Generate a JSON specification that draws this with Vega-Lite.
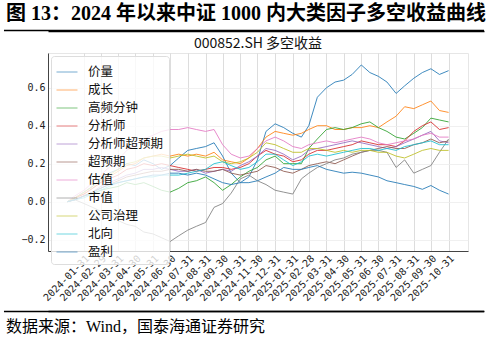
{
  "$schema": "https://vega.github.io/schema/vega-lite/v6.json",
  "padding": {"left": 3, "top": 3, "right": 5, "bottom": 2},
  "spacing": 4,
  "datasets": {
    "series": [
      {"date": "2024-01-02", "价量": 0, "成长": 0, "高频分钟": 0, "分析师": 0, "分析师超预期": 0, "超预期": 0, "估值": 0, "市值": 0, "公司治理": 0, "北向": 0, "盈利": 0},
      {"date": "2024-01-15", "价量": 0.02, "成长": 0.02, "高频分钟": 0.01, "分析师": 0.02, "分析师超预期": 0.01, "超预期": 0.01, "估值": 0.03, "市值": 0.01, "公司治理": 0.02, "北向": 0.01, "盈利": 0.01},
      {"date": "2024-01-31", "价量": 0.05, "成长": 0.04, "高频分钟": 0.03, "分析师": 0.04, "分析师超预期": 0.03, "超预期": 0.03, "估值": 0.06, "市值": -0.01, "公司治理": 0.05, "北向": 0.02, "盈利": 0.03},
      {"date": "2024-02-15", "价量": 0.08, "成长": 0.07, "高频分钟": 0.04, "分析师": 0.07, "分析师超预期": 0.05, "超预期": 0.05, "估值": 0.10, "市值": -0.03, "公司治理": 0.08, "北向": 0.04, "盈利": 0.05},
      {"date": "2024-02-29", "价量": 0.12, "成长": 0.10, "高频分钟": 0.06, "分析师": 0.10, "分析师超预期": 0.08, "超预期": 0.07, "估值": 0.14, "市值": -0.05, "公司治理": 0.11, "北向": 0.06, "盈利": 0.07},
      {"date": "2024-03-15", "价量": 0.15, "成长": 0.13, "高频分钟": 0.07, "分析师": 0.12, "分析师超预期": 0.10, "超预期": 0.09, "估值": 0.18, "市值": -0.07, "公司治理": 0.14, "北向": 0.08, "盈利": 0.09},
      {"date": "2024-03-31", "价量": 0.17, "成长": 0.16, "高频分钟": 0.08, "分析师": 0.14, "分析师超预期": 0.12, "超预期": 0.11, "估值": 0.22, "市值": -0.10, "公司治理": 0.17, "北向": 0.10, "盈利": 0.10},
      {"date": "2024-04-15", "价量": 0.20, "成长": 0.19, "高频分钟": 0.10, "分析师": 0.17, "分析师超预期": 0.14, "超预期": 0.13, "估值": 0.27, "市值": -0.12, "公司治理": 0.20, "北向": 0.11, "盈利": 0.11},
      {"date": "2024-04-30", "价量": 0.19, "成长": 0.20, "高频分钟": 0.09, "分析师": 0.18, "分析师超预期": 0.15, "超预期": 0.14, "估值": 0.30, "市值": -0.13, "公司治理": 0.21, "北向": 0.12, "盈利": 0.12},
      {"date": "2024-05-15", "价量": 0.22, "成长": 0.23, "高频分钟": 0.10, "分析师": 0.20, "分析师超预期": 0.17, "超预期": 0.15, "估值": 0.33, "市值": -0.16, "公司治理": 0.23, "北向": 0.13, "盈利": 0.13},
      {"date": "2024-05-31", "价量": 0.20, "成长": 0.24, "高频分钟": 0.08, "分析师": 0.19, "分析师超预期": 0.17, "超预期": 0.16, "估值": 0.35, "市值": -0.17, "公司治理": 0.24, "北向": 0.13, "盈利": 0.14},
      {"date": "2024-06-15", "价量": 0.17, "成长": 0.25, "高频分钟": 0.06, "分析师": 0.20, "分析师超预期": 0.18, "超预期": 0.16, "估值": 0.37, "市值": -0.19, "公司治理": 0.24, "北向": 0.14, "盈利": 0.14},
      {"date": "2024-06-30", "价量": 0.19, "成长": 0.24, "高频分钟": 0.05, "分析师": 0.19, "分析师超预期": 0.17, "超预期": 0.17, "估值": 0.38, "市值": -0.21, "公司治理": 0.23, "北向": 0.14, "盈利": 0.15},
      {"date": "2024-07-15", "价量": 0.23, "成长": 0.25, "高频分钟": 0.07, "分析师": 0.18, "分析师超预期": 0.16, "超预期": 0.17, "估值": 0.38, "市值": -0.18, "公司治理": 0.24, "北向": 0.14, "盈利": 0.15},
      {"date": "2024-07-31", "价量": 0.27, "成长": 0.24, "高频分钟": 0.10, "分析师": 0.17, "分析师超预期": 0.16, "超预期": 0.16, "估值": 0.39, "市值": -0.15, "公司治理": 0.25, "北向": 0.15, "盈利": 0.14},
      {"date": "2024-08-15", "价量": 0.28, "成长": 0.25, "高频分钟": 0.11, "分析师": 0.16, "分析师超预期": 0.17, "超预期": 0.17, "估值": 0.38, "市值": -0.13, "公司治理": 0.24, "北向": 0.16, "盈利": 0.15},
      {"date": "2024-08-31", "价量": 0.29, "成长": 0.24, "高频分钟": 0.13, "分析师": 0.17, "分析师超预期": 0.15, "超预期": 0.16, "估值": 0.37, "市值": -0.11, "公司治理": 0.23, "北向": 0.17, "盈利": 0.14},
      {"date": "2024-09-15", "价量": 0.31, "成长": 0.26, "高频分钟": 0.10, "分析师": 0.18, "分析师超预期": 0.16, "超预期": 0.16, "估值": 0.38, "市值": -0.03, "公司治理": 0.24, "北向": 0.20, "盈利": 0.12},
      {"date": "2024-09-30", "价量": 0.24, "成长": 0.22, "高频分钟": 0.06, "分析师": 0.18, "分析师超预期": 0.17, "超预期": 0.17, "估值": 0.30, "市值": -0.01, "公司治理": 0.21, "北向": 0.21, "盈利": 0.10},
      {"date": "2024-10-15", "价量": 0.15, "成长": 0.21, "高频分钟": 0.09, "分析师": 0.17, "分析师超预期": 0.16, "超预期": 0.15, "估值": 0.25, "市值": 0.045, "公司治理": 0.20, "北向": 0.19, "盈利": 0.09},
      {"date": "2024-10-31", "价量": 0.10, "成长": 0.20, "高频分钟": 0.13, "分析师": 0.18, "分析师超预期": 0.19, "超预期": 0.14, "估值": 0.23, "市值": 0.12, "公司治理": 0.21, "北向": 0.17, "盈利": 0.10},
      {"date": "2024-11-15", "价量": 0.13, "成长": 0.23, "高频分钟": 0.16, "分析师": 0.20, "分析师超预期": 0.21, "超预期": 0.15, "估值": 0.24, "市值": 0.14, "公司治理": 0.23, "北向": 0.18, "盈利": 0.10},
      {"date": "2024-11-30", "价量": 0.22, "成长": 0.28, "高频分钟": 0.18, "分析师": 0.24, "分析师超预期": 0.24, "超预期": 0.16, "估值": 0.28, "市值": 0.11, "公司治理": 0.26, "北向": 0.21, "盈利": 0.11},
      {"date": "2024-12-15", "价量": 0.37, "成长": 0.34, "高频分钟": 0.22, "分析师": 0.27, "分析师超预期": 0.28, "超预期": 0.19, "估值": 0.32, "市值": 0.09, "公司治理": 0.31, "北向": 0.25, "盈利": 0.13},
      {"date": "2024-12-31", "价量": 0.41, "成长": 0.37, "高频分钟": 0.24, "分析师": 0.25, "分析师超预期": 0.27, "超预期": 0.18, "估值": 0.34, "市值": 0.06, "公司治理": 0.30, "北向": 0.25, "盈利": 0.15},
      {"date": "2025-01-15", "价量": 0.39, "成长": 0.36, "高频分钟": 0.20, "分析师": 0.24, "分析师超预期": 0.25, "超预期": 0.16, "估值": 0.32, "市值": 0.05, "公司治理": 0.28, "北向": 0.22, "盈利": 0.18},
      {"date": "2025-01-31", "价量": 0.36, "成长": 0.35, "高频分钟": 0.20, "分析师": 0.21, "分析师超预期": 0.22, "超预期": 0.15, "估值": 0.29, "市值": 0.04, "公司治理": 0.26, "北向": 0.19, "盈利": 0.17},
      {"date": "2025-02-15", "价量": 0.34, "成长": 0.36, "高频分钟": 0.20, "分析师": 0.22, "分析师超预期": 0.24, "超预期": 0.17, "估值": 0.28, "市值": 0.12, "公司治理": 0.26, "北向": 0.21, "盈利": 0.17},
      {"date": "2025-02-28", "价量": 0.40, "成长": 0.38, "高频分钟": 0.28, "分析师": 0.25, "分析师超预期": 0.27, "超预期": 0.19, "估值": 0.30, "市值": 0.15, "公司治理": 0.28, "北向": 0.24, "盈利": 0.18},
      {"date": "2025-03-15", "价量": 0.55, "成长": 0.40, "高频分钟": 0.33, "分析师": 0.27, "分析师超预期": 0.28, "超预期": 0.20, "估值": 0.31, "市值": 0.18, "公司治理": 0.28, "北向": 0.25, "盈利": 0.19},
      {"date": "2025-03-31", "价量": 0.60, "成长": 0.40, "高频分钟": 0.38, "分析师": 0.27, "分析师超预期": 0.29, "超预期": 0.21, "估值": 0.32, "市值": 0.20, "公司治理": 0.27, "北向": 0.24, "盈利": 0.17},
      {"date": "2025-04-15", "价量": 0.63, "成长": 0.38, "高频分钟": 0.39, "分析师": 0.28, "分析师超预期": 0.30, "超预期": 0.20, "估值": 0.31, "市值": 0.22, "公司治理": 0.26, "北向": 0.25, "盈利": 0.16},
      {"date": "2025-04-30", "价量": 0.64, "成长": 0.38, "高频分钟": 0.38, "分析师": 0.29, "分析师超预期": 0.31, "超预期": 0.22, "估值": 0.32, "市值": 0.23, "公司治理": 0.27, "北向": 0.26, "盈利": 0.15},
      {"date": "2025-05-15", "价量": 0.67, "成长": 0.39, "高频分钟": 0.39, "分析师": 0.30, "分析师超预期": 0.32, "超预期": 0.24, "估值": 0.33, "市值": 0.25, "公司治理": 0.26, "北向": 0.27, "盈利": 0.155},
      {"date": "2025-05-31", "价量": 0.72, "成长": 0.39, "高频分钟": 0.41, "分析师": 0.32, "分析师超预期": 0.31, "超预期": 0.26, "估值": 0.34, "市值": 0.26, "公司治理": 0.27, "北向": 0.28, "盈利": 0.15},
      {"date": "2025-06-15", "价量": 0.68, "成长": 0.40, "高频分钟": 0.42, "分析师": 0.31, "分析师超预期": 0.30, "超预期": 0.27, "估值": 0.33, "市值": 0.27, "公司治理": 0.27, "北向": 0.28, "盈利": 0.14},
      {"date": "2025-06-30", "价量": 0.66, "成长": 0.39, "高频分钟": 0.39, "分析师": 0.30, "分析师超预期": 0.29, "超预期": 0.28, "估值": 0.31, "市值": 0.27, "公司治理": 0.26, "北向": 0.27, "盈利": 0.13},
      {"date": "2025-07-15", "价量": 0.63, "成长": 0.42, "高频分钟": 0.37, "分析师": 0.30, "分析师超预期": 0.28, "超预期": 0.29, "估值": 0.30, "市值": 0.26, "公司治理": 0.26, "北向": 0.28, "盈利": 0.11},
      {"date": "2025-07-31", "价量": 0.57, "成长": 0.45, "高频分钟": 0.34, "分析师": 0.29, "分析师超预期": 0.29, "超预期": 0.28, "估值": 0.31, "市值": 0.18, "公司治理": 0.24, "北向": 0.27, "盈利": 0.10},
      {"date": "2025-08-15", "价量": 0.61, "成长": 0.50, "高频分钟": 0.33, "分析师": 0.32, "分析师超预期": 0.31, "超预期": 0.28, "估值": 0.32, "市值": 0.22, "公司治理": 0.23, "北向": 0.29, "盈利": 0.09},
      {"date": "2025-08-31", "价量": 0.65, "成长": 0.49, "高频分钟": 0.36, "分析师": 0.37, "分析师超预期": 0.33, "超预期": 0.30, "估值": 0.33, "市值": 0.15, "公司治理": 0.25, "北向": 0.30, "盈利": 0.08},
      {"date": "2025-09-15", "价量": 0.68, "成长": 0.51, "高频分钟": 0.39, "分析师": 0.40, "分析师超预期": 0.35, "超预期": 0.31, "估值": 0.35, "市值": 0.17, "公司治理": 0.27, "北向": 0.31, "盈利": 0.065},
      {"date": "2025-09-30", "价量": 0.70, "成长": 0.53, "高频分钟": 0.44, "分析师": 0.42, "分析师超预期": 0.37, "超预期": 0.33, "估值": 0.36, "市值": 0.19, "公司治理": 0.28, "北向": 0.32, "盈利": 0.085},
      {"date": "2025-10-15", "价量": 0.67, "成长": 0.48, "高频分钟": 0.43, "分析师": 0.38, "分析师超预期": 0.32, "超预期": 0.31, "估值": 0.34, "市值": 0.26, "公司治理": 0.27, "北向": 0.30, "盈利": 0.06},
      {"date": "2025-10-31", "价量": 0.69, "成长": 0.47, "高频分钟": 0.42, "分析师": 0.39, "分析师超预期": 0.31, "超预期": 0.32, "估值": 0.34, "市值": 0.33, "公司治理": 0.27, "北向": 0.30, "盈利": 0.04}
    ],
    "sepdata": [{"start": 0, "end": 1}]
  },
  "vconcat": [
    {
      "width": 436,
      "height": 1,
      "view": {"stroke": null},
      "title": {
        "text": "图 13：2024 年以来中证 1000 内大类因子多空收益曲线",
        "anchor": "start",
        "frame": "group",
        "font": "Liberation Serif, Noto Sans CJK SC",
        "fontWeight": "bold",
        "fontSize": 20,
        "color": "#000000",
        "offset": 6,
        "dx": -42
      },
      "data": {"name": "sepdata"},
      "mark": {"type": "rule", "color": "#000000", "strokeWidth": 1.3, "clip": false},
      "encoding": {
        "x": {"field": "start", "type": "quantitative", "scale": {"domain": [0.0917, 1], "nice": false, "zero": false},
              "axis": {"domain": true, "domainColor": "#000000", "domainWidth": 1.3, "labels": false, "ticks": false, "grid": false, "title": null, "orient": "bottom"}},
        "x2": {"field": "end"}
      }
    },
    {
      "width": 420,
      "height": 198,
      "view": {"stroke": "#e6e6e6"},
      "title": {
        "text": "000852.SH  多空收益",
        "anchor": "middle",
        "font": "Noto Sans CJK SC",
        "fontWeight": "normal",
        "fontSize": 14,
        "color": "#111111",
        "offset": 2
      },
      "data": {"name": "series"},
      "transform": [
        {"fold": ["价量", "成长", "高频分钟", "分析师", "分析师超预期", "超预期", "估值", "市值", "公司治理", "北向", "盈利"], "as": ["factor", "value"]}
      ],
      "mark": {"type": "line", "strokeWidth": 1, "opacity": 0.85, "clip": true},
      "encoding": {
        "x": {
          "field": "date",
          "type": "temporal",
          "scale": {"domain": [{"year": 2023, "month": 11, "date": 29}, {"year": 2025, "month": 12, "date": 4}]},
          "axis": {
            "title": null,
            "format": "%Y-%m-%d",
            "labelAngle": -45,
            "labelFont": "DejaVu Sans Mono",
            "labelFontSize": 10,
            "labelColor": "#222222",
            "labelOverlap": false,
            "labelFlush": false,
            "labelPadding": 2,
            "ticks": false,
            "domainColor": "#444444",
            "grid": true,
            "gridColor": "#d4d4d4",
            "gridWidth": 0.8,
            "minExtent": 54,
            "values": [
              {"year": 2024, "month": 1, "date": 31}, {"year": 2024, "month": 2, "date": 29}, {"year": 2024, "month": 3, "date": 31},
              {"year": 2024, "month": 4, "date": 30}, {"year": 2024, "month": 5, "date": 31}, {"year": 2024, "month": 6, "date": 30},
              {"year": 2024, "month": 7, "date": 31}, {"year": 2024, "month": 8, "date": 31}, {"year": 2024, "month": 9, "date": 30},
              {"year": 2024, "month": 10, "date": 31}, {"year": 2024, "month": 11, "date": 30}, {"year": 2024, "month": 12, "date": 31},
              {"year": 2025, "month": 1, "date": 31}, {"year": 2025, "month": 2, "date": 28}, {"year": 2025, "month": 3, "date": 31},
              {"year": 2025, "month": 4, "date": 30}, {"year": 2025, "month": 5, "date": 31}, {"year": 2025, "month": 6, "date": 30},
              {"year": 2025, "month": 7, "date": 31}, {"year": 2025, "month": 8, "date": 31}, {"year": 2025, "month": 9, "date": 30},
              {"year": 2025, "month": 10, "date": 31}
            ]
          }
        },
        "y": {
          "field": "value",
          "type": "quantitative",
          "scale": {"domain": [-0.26, 0.783], "nice": false, "zero": false},
          "axis": {
            "title": null,
            "values": [-0.2, 0, 0.2, 0.4, 0.6],
            "format": ".1f",
            "labelFont": "DejaVu Sans Mono",
            "labelFontSize": 10,
            "labelColor": "#222222",
            "labelPadding": 3,
            "ticks": false,
            "domainColor": "#444444",
            "grid": true,
            "gridColor": "#ececec",
            "gridWidth": 0.8,
            "minExtent": 44
          }
        },
        "color": {
          "field": "factor",
          "type": "nominal",
          "scale": {
            "domain": ["价量", "成长", "高频分钟", "分析师", "分析师超预期", "超预期", "估值", "市值", "公司治理", "北向", "盈利"],
            "range": ["#1f77b4", "#ff7f0e", "#2ca02c", "#d62728", "#9467bd", "#8c564b", "#e377c2", "#7f7f7f", "#bcbd22", "#17becf", "#1f77b4"]
          },
          "legend": {
            "title": null,
            "orient": "top-left",
            "offset": 3,
            "symbolType": "stroke",
            "symbolStrokeWidth": 1,
            "symbolSize": 440,
            "symbolOpacity": 0.6,
            "labelFont": "Noto Sans CJK SC",
            "labelFontSize": 12.5,
            "labelColor": "#111111",
            "labelOffset": 10,
            "labelLimit": 200,
            "rowPadding": 0,
            "padding": 5,
            "fillColor": "rgba(255,255,255,0.8)",
            "strokeColor": "#dddddd",
            "cornerRadius": 3
          }
        },
        "detail": {"field": "factor"}
      }
    },
    {
      "width": 436,
      "height": 1,
      "view": {"stroke": null},
      "title": {
        "text": "数据来源：Wind，国泰海通证券研究",
        "orient": "bottom",
        "anchor": "start",
        "frame": "group",
        "font": "Liberation Serif, Noto Sans CJK SC",
        "fontWeight": "normal",
        "fontSize": 16,
        "color": "#000000",
        "offset": 7,
        "dx": -42
      },
      "data": {"name": "sepdata"},
      "mark": {"type": "rule", "color": "#000000", "strokeWidth": 1.3, "clip": false},
      "encoding": {
        "x": {"field": "start", "type": "quantitative", "scale": {"domain": [0.0917, 1], "nice": false, "zero": false},
              "axis": {"domain": true, "domainColor": "#000000", "domainWidth": 1.3, "labels": false, "ticks": false, "grid": false, "title": null, "orient": "top"}},
        "x2": {"field": "end"}
      }
    }
  ],
  "resolve": {"scale": {"x": "independent", "y": "independent", "color": "independent"}, "legend": {"color": "independent"}},
  "config": {
    "background": "#ffffff",
    "font": "Noto Sans CJK SC"
  }
}
